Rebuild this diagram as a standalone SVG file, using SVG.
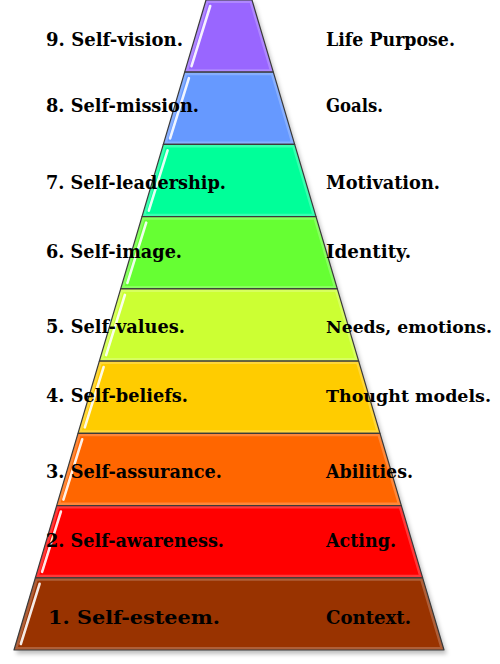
<svg xmlns="http://www.w3.org/2000/svg" xmlns:xlink="http://www.w3.org/1999/xlink" width="500" height="664" viewBox="0 0 500 664">
<style>
.outline{fill:none;stroke:#3a3a3a;stroke-width:1.2;stroke-linejoin:round}
.bevel{fill:none;stroke:#ffffff;stroke-opacity:0.22;stroke-width:6}
.gloss{stroke:#ffffff;stroke-width:2.6;stroke-linecap:round;stroke-opacity:0.9}
.lbl{font-family:"DejaVu Serif","Liberation Serif",serif;font-weight:bold;font-size:19px;fill:#000}
.lbl.narrow{font-size:17px}
</style>
<defs>
<filter id="blur" x="-10%" y="-10%" width="120%" height="120%"><feGaussianBlur stdDeviation="2"/></filter>
<polygon id="p9" points="206,0 252,0 273.33,72.2 184.67,72.2"/>
<polygon id="p8" points="184.67,72.2 273.33,72.2 294.67,144.4 163.33,144.4"/>
<polygon id="p7" points="163.33,144.4 294.67,144.4 316,216.7 142,216.7"/>
<polygon id="p6" points="142,216.7 316,216.7 337.33,288.9 120.67,288.9"/>
<polygon id="p5" points="120.67,288.9 337.33,288.9 358.67,361.1 99.33,361.1"/>
<polygon id="p4" points="99.33,361.1 358.67,361.1 380,433.3 78,433.3"/>
<polygon id="p3" points="78,433.3 380,433.3 401.33,505.6 56.67,505.6"/>
<polygon id="p2" points="56.67,505.6 401.33,505.6 422.67,577.8 35.33,577.8"/>
<polygon id="p1" points="35.33,577.8 422.67,577.8 444,650 14,650"/>
<clipPath id="c9"><use xlink:href="#p9"/></clipPath>
<clipPath id="c8"><use xlink:href="#p8"/></clipPath>
<clipPath id="c7"><use xlink:href="#p7"/></clipPath>
<clipPath id="c6"><use xlink:href="#p6"/></clipPath>
<clipPath id="c5"><use xlink:href="#p5"/></clipPath>
<clipPath id="c4"><use xlink:href="#p4"/></clipPath>
<clipPath id="c3"><use xlink:href="#p3"/></clipPath>
<clipPath id="c2"><use xlink:href="#p2"/></clipPath>
<clipPath id="c1"><use xlink:href="#p1"/></clipPath>
</defs>
<rect width="500" height="664" fill="#ffffff"/>
<polygon points="208,2 254,2 447,654 16,654" fill="#000" fill-opacity="0.25" filter="url(#blur)"/>

<g id="level-9">
<use xlink:href="#p9" fill="#9966FF"/>
<use xlink:href="#p9" class="bevel" clip-path="url(#c9)"/>
<use xlink:href="#p9" class="outline"/>
<line class="gloss" x1="210.2" y1="6" x2="191.5" y2="66.2"/>
<text class="lbl" x="46" y="46" textLength="137" lengthAdjust="spacingAndGlyphs">9. Self-vision.</text>
<text class="lbl" x="326" y="46" textLength="129" lengthAdjust="spacingAndGlyphs">Life Purpose.</text>
</g>
<g id="level-8">
<use xlink:href="#p8" fill="#6699FF"/>
<use xlink:href="#p8" class="bevel" clip-path="url(#c8)"/>
<use xlink:href="#p8" class="outline"/>
<line class="gloss" x1="188.9" y1="78.2" x2="170.1" y2="138.4"/>
<text class="lbl" x="46" y="112" textLength="153" lengthAdjust="spacingAndGlyphs">8. Self-mission.</text>
<text class="lbl" x="326" y="112" textLength="57" lengthAdjust="spacingAndGlyphs">Goals.</text>
</g>
<g id="level-7">
<use xlink:href="#p7" fill="#00FF99"/>
<use xlink:href="#p7" class="bevel" clip-path="url(#c7)"/>
<use xlink:href="#p7" class="outline"/>
<line class="gloss" x1="167.6" y1="150.4" x2="148.8" y2="210.7"/>
<text class="lbl" x="46" y="189" textLength="180" lengthAdjust="spacingAndGlyphs">7. Self-leadership.</text>
<text class="lbl" x="326" y="189" textLength="114" lengthAdjust="spacingAndGlyphs">Motivation.</text>
</g>
<g id="level-6">
<use xlink:href="#p6" fill="#66FF33"/>
<use xlink:href="#p6" class="bevel" clip-path="url(#c6)"/>
<use xlink:href="#p6" class="outline"/>
<line class="gloss" x1="146.2" y1="222.7" x2="127.4" y2="282.9"/>
<text class="lbl" x="46" y="258" textLength="136" lengthAdjust="spacingAndGlyphs">6. Self-image.</text>
<text class="lbl" x="326" y="258" textLength="85" lengthAdjust="spacingAndGlyphs">Identity.</text>
</g>
<g id="level-5">
<use xlink:href="#p5" fill="#CCFF33"/>
<use xlink:href="#p5" class="bevel" clip-path="url(#c5)"/>
<use xlink:href="#p5" class="outline"/>
<line class="gloss" x1="124.9" y1="294.9" x2="106.1" y2="355.1"/>
<text class="lbl" x="46" y="333" textLength="139" lengthAdjust="spacingAndGlyphs">5. Self-values.</text>
<text class="lbl narrow" x="326" y="333" textLength="166" lengthAdjust="spacingAndGlyphs">Needs, emotions.</text>
</g>
<g id="level-4">
<use xlink:href="#p4" fill="#FFCC00"/>
<use xlink:href="#p4" class="bevel" clip-path="url(#c4)"/>
<use xlink:href="#p4" class="outline"/>
<line class="gloss" x1="103.6" y1="367.1" x2="84.8" y2="427.3"/>
<text class="lbl" x="46" y="402" textLength="142" lengthAdjust="spacingAndGlyphs">4. Self-beliefs.</text>
<text class="lbl narrow" x="326" y="402" textLength="165" lengthAdjust="spacingAndGlyphs">Thought models.</text>
</g>
<g id="level-3">
<use xlink:href="#p3" fill="#FF6600"/>
<use xlink:href="#p3" class="bevel" clip-path="url(#c3)"/>
<use xlink:href="#p3" class="outline"/>
<line class="gloss" x1="82.2" y1="439.3" x2="63.4" y2="499.6"/>
<text class="lbl" x="46" y="478" textLength="176" lengthAdjust="spacingAndGlyphs">3. Self-assurance.</text>
<text class="lbl" x="326" y="478" textLength="87" lengthAdjust="spacingAndGlyphs">Abilities.</text>
</g>
<g id="level-2">
<use xlink:href="#p2" fill="#FF0000"/>
<use xlink:href="#p2" class="bevel" clip-path="url(#c2)"/>
<use xlink:href="#p2" class="outline"/>
<line class="gloss" x1="60.9" y1="511.6" x2="42.1" y2="571.8"/>
<text class="lbl" x="46" y="547" textLength="178" lengthAdjust="spacingAndGlyphs">2. Self-awareness.</text>
<text class="lbl" x="326" y="547" textLength="70" lengthAdjust="spacingAndGlyphs">Acting.</text>
</g>
<g id="level-1">
<use xlink:href="#p1" fill="#993300"/>
<use xlink:href="#p1" class="bevel" clip-path="url(#c1)"/>
<use xlink:href="#p1" class="outline"/>
<line class="gloss" x1="39.6" y1="583.8" x2="20.8" y2="644"/>
<text class="lbl" x="48" y="624" textLength="172" lengthAdjust="spacingAndGlyphs">1. Self-esteem.</text>
<text class="lbl" x="326" y="624" textLength="85" lengthAdjust="spacingAndGlyphs">Context.</text>
</g>
<g id="connectors"/>
</svg>
